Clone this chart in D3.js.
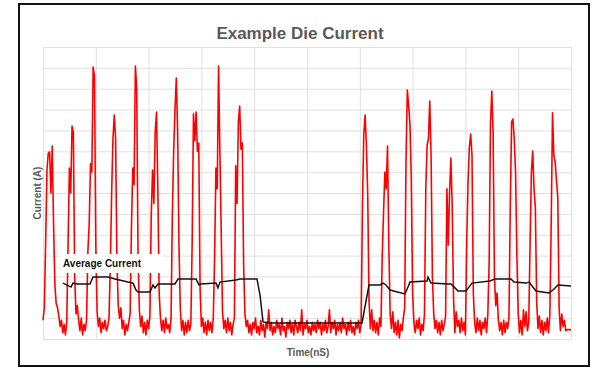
<!DOCTYPE html>
<html>
<head>
<meta charset="utf-8">
<script src="https://cdn.jsdelivr.net/npm/d3@7"></script>
<style>
  body { margin: 0; background: #fff; }
  svg { display: block; }
  text { font-family: "Liberation Sans", Arial, sans-serif; }
</style>
</head>
<body>
<div id="chart"></div>
<script>
// die current trace, one sample every 0.25 nS
var sampleStep = 0.25;
var dieCurrent = [
  0.9, 1.5, 4.6, 8.1, 8.9, 8.97, 7.0, 9.25, 5.5, 2.6, 1.7, 1.5, 1.1, 0.6, 0.9, 0.3,
  0.7, 0.2, 0.8, 4.6, 8.2, 7.0, 10.21, 9.9, 3.0, 1.2, 1.6, 0.9, 0.4, 1.0, 0.2, 0.7, 0.4,
  0.9, 4.2, 5.5, 8.4, 8.0, 13.04, 12.6, 4.5, 1.3, 0.6, 1.0, 0.3, 0.8, 0.5, 0.9, 0.4, 0.6,
  1.0, 3.5, 7.0, 9.6, 10.74, 9.6, 3.8, 1.6, 1.0, 1.5, 0.5, 0.9, 0.2, 0.7, 0.4, 0.8,
  1.2, 5.3, 8.2, 7.4, 13.09, 12.0, 4.0, 1.4, 0.6, 1.1, 0.3, 0.8, 0.2, 0.9, 0.5, 1.1,
  5.9, 8.1, 6.5, 9.9, 10.88, 7.2, 2.2, 1.0, 0.4, 0.9, 0.3, 1.0, 0.5, 0.7, 0.3,
  1.0, 6.0, 9.0, 11.0, 12.51, 9.9, 4.6, 1.5, 0.4, 0.9, 0.2, 0.8, 0.3, 0.9, 0.4, 0.7,
  4.6, 10.8, 9.5, 10.88, 9.0, 9.4, 2.4, 0.6, 1.0, 0.3, 0.8, 0.2, 0.9, 0.4, 0.8, 0.3,
  1.0, 3.9, 8.2, 7.2, 13.09, 9.0, 5.2, 1.3, 0.5, 0.9, 0.3, 1.0, 0.4, 0.8, 0.2, 0.7,
  1.0, 8.3, 6.5, 10.4, 11.17, 9.1, 9.4, 3.5, 1.2,
  0.6, 0.9, 0.3, 0.7, 0.2, 0.8, 0.5, 1.0, 0.3, 0.6,
  0.2, 0.9, 0.4, 0.7, 0.1, 0.8, 0.5, 1.4, 0.4, 0.8,
  0.2, 0.6, 0.3, 0.9, 0.5, 0.7, 0.2, 1.0, 0.4, 0.6,
  0.1, 0.8, 0.5, 0.9, 0.3, 0.7, 0.2, 0.9, 0.6, 0.3,
  0.8, 0.4, 1.4, 0.2, 0.7, 0.5, 0.9, 0.3, 0.6, 0.2,
  0.8, 0.4, 0.7, 0.3, 0.9, 0.5, 0.8, 0.2, 0.7, 0.4,
  0.9, 0.3, 0.6, 1.4, 0.3, 0.8, 0.5, 0.9, 0.2, 0.7,
  0.4, 0.8, 0.3, 1.0, 0.5, 0.7, 0.2, 0.8, 0.4, 0.9,
  0.3, 0.6, 0.2, 0.8, 0.5, 0.9, 0.3, 0.7,
  6.3, 9.8, 10.74, 9.3, 6.9, 1.8, 0.5, 1.4, 0.4, 0.9, 0.3, 0.8, 0.2, 1.0, 0.6,
  4.0, 6.1, 8.0, 7.2, 9.25, 4.5, 1.2, 0.5, 1.3, 0.3, 0.8, 0.2, 0.9, 0.05, 0.7, 0.4, 1.0,
  1.5, 8.5, 11.94, 11.2, 10.3, 7.7, 2.2, 0.8, 0.3, 0.9, 0.5, 1.0, 0.2, 0.7, 0.4, 1.2,
  7.2, 9.3, 9.6, 11.41, 8.8, 3.0, 1.2, 0.5, 0.9, 0.3, 0.8, 0.2, 0.9, 0.4, 0.7, 1.1,
  7.2, 4.5, 7.0, 8.68, 6.4, 2.0, 0.3, 1.3, 0.6, 0.9, 0.3, 1.0, 0.4, 0.8, 0.2,
  4.6, 7.5, 9.2, 9.83, 8.8, 2.2, 0.8, 0.3, 1.0, 0.4, 0.9, 0.2, 0.8, 0.5, 1.0, 0.3, 1.2,
  3.7, 10.3, 11.89, 9.9, 3.0, 1.6, 2.2, 0.9, 0.4, 0.8, 0.2, 0.9, 0.3, 0.8, 0.5,
  1.0, 6.3, 10.4, 10.55, 9.6, 8.0, 4.0, 1.2, 0.3, 0.9, 0.2, 1.4, 0.6, 1.3, 0.4, 0.8,
  4.6, 8.0, 9.01, 7.2, 6.3, 1.8, 0.5, 1.1, 0.3, 0.9, 0.2, 0.8, 0.4, 1.0, 0.3, 1.2,
  5.5, 10.84, 8.8, 8.5, 7.6, 6.8, 1.5, 0.4, 1.2, 0.6, 0.9, 0.4, 0.45, 0.45, 0.45, 0.45
];

// running average
var avgTime = [3.79, 5.30, 5.68, 6.44, 8.90, 9.47, 12.31, 13.64, 16.10, 17.05, 17.61, 17.99,
  20.27, 20.83, 21.21, 21.78, 25.0, 25.57, 28.98, 29.55, 29.92, 32.77, 33.14, 33.52, 36.55,
  37.31, 40.53, 41.1, 41.67, 43.0, 60.42, 61.74, 63.83, 64.39, 64.96, 65.72, 68.56, 69.13,
  69.51, 72.73, 72.92, 73.48, 76.7, 77.27, 78.03, 78.60, 80.11, 81.25, 84.66, 85.61, 88.64,
  89.2, 91.48, 92.05, 93.37, 95.83, 96.59, 97.54, 100];
var avgCurrent = [2.68, 2.49, 2.68, 2.64, 2.64, 2.97, 2.97, 2.88, 2.73, 2.68, 2.35, 2.25,
  2.25, 2.59, 2.45, 2.64, 2.64, 2.88, 2.88, 2.59, 2.64, 2.68, 2.45, 2.73, 2.83,
  2.88, 2.88, 2.11, 0.82, 0.77, 0.77, 2.59, 2.59, 2.68, 2.59, 2.35, 2.16, 2.49,
  2.73, 2.78, 2.97, 2.68, 2.64, 2.64, 2.45, 2.30, 2.30, 2.68, 2.78, 2.88, 2.88,
  2.73, 2.68, 2.73, 2.30, 2.21, 2.35, 2.59, 2.54];

var xTicks = [0, 10, 20, 30, 40, 50, 60, 70, 80, 90, 100];
var yTicks = [0, 1, 2, 3, 4, 5, 6, 7, 8, 9, 10, 11, 12, 13, 14];

var W = 592, H = 368;
var svg = d3.select("#chart").append("svg").attr("width", W).attr("height", H);

// plot area edges (named so they don't clash with window.top)
var plotL = 43, plotR = 571, plotT = 47, plotB = 339;
var x = d3.scaleLinear().domain([0, 100]).range([plotL, plotR]);
var y = d3.scaleLinear().domain([0, 14]).range([plotB, plotT]);

// frame
svg.append("rect")
  .attr("x", 19).attr("y", 4).attr("width", 570).attr("height", 362)
  .attr("fill", "#fff").attr("stroke", "#111").attr("stroke-width", 2);

// grid
svg.append("g")
  .attr("transform", "translate(0," + plotB + ")")
  .call(d3.axisBottom(x).tickValues(xTicks).tickSize(-(plotB - plotT)).tickFormat(""))
  .call(function (g) { g.select(".domain").remove(); })
  .selectAll("line").attr("stroke", "#e0e0e0").attr("stroke-width", 1);
svg.append("g")
  .attr("transform", "translate(" + plotL + ",0)")
  .call(d3.axisLeft(y).tickValues(yTicks).tickSize(-(plotR - plotL)).tickFormat(""))
  .call(function (g) { g.select(".domain").remove(); })
  .selectAll("line").attr("stroke", "#e0e0e0").attr("stroke-width", 1);

// current trace
var traceLine = d3.line()
  .x(function (d, i) { return x(i * sampleStep); })
  .y(function (d) { return y(d); });
svg.append("path")
  .attr("d", traceLine(dieCurrent))
  .attr("fill", "none")
  .attr("stroke", "#ff0000")
  .attr("stroke-width", 1.6)
  .attr("stroke-linejoin", "round");

// label box for the average
svg.append("rect")
  .attr("x", 60).attr("y", 254).attr("width", 102).attr("height", 19)
  .attr("fill", "#fff");
svg.append("text")
  .attr("x", 63).attr("y", 267)
  .attr("font-size", 10).attr("font-weight", "bold").attr("fill", "#111")
  .text("Average Current");

var avgLine = d3.line()
  .x(function (d, i) { return x(avgTime[i]); })
  .y(function (d) { return y(d); });
svg.append("path")
  .attr("d", avgLine(avgCurrent))
  .attr("fill", "none")
  .attr("stroke", "#111")
  .attr("stroke-width", 1.5);

// titles
svg.append("text")
  .attr("x", 300).attr("y", 39)
  .attr("text-anchor", "middle")
  .attr("font-size", 17).attr("font-weight", "bold").attr("fill", "#595959")
  .text("Example Die Current");
svg.append("text")
  .attr("x", 308).attr("y", 356)
  .attr("text-anchor", "middle")
  .attr("font-size", 10).attr("font-weight", "bold").attr("fill", "#595959")
  .text("Time(nS)");
svg.append("text")
  .attr("transform", "translate(40.5,193) rotate(-90)")
  .attr("text-anchor", "middle")
  .attr("font-size", 10).attr("font-weight", "bold").attr("fill", "#595959")
  .text("Current (A)");
</script>
</body>
</html>
